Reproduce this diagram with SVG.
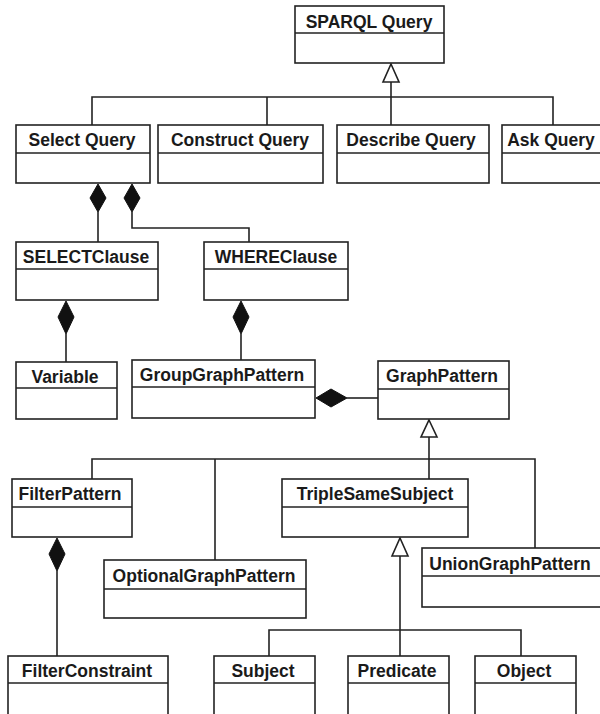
<svg xmlns="http://www.w3.org/2000/svg" width="600" height="714" viewBox="0 0 600 714">
  <style>
    .box { fill: #ffffff; stroke: #222222; stroke-width: 1.6; }
    .div { stroke: #222222; stroke-width: 1.6; }
    .name { font-family: "Liberation Sans", Arial, sans-serif; font-weight: bold; font-size: 17.5px; fill: #1a1a1a; text-anchor: middle; }
    .line { fill: none; stroke: #222222; stroke-width: 1.6; }
    .comp { fill: #111111; stroke: #111111; stroke-width: 1; }
    .gen { fill: #ffffff; stroke: #222222; stroke-width: 1.6; }
  </style>
  <rect width="600" height="714" fill="#ffffff"/>

  <!-- connectors: generalisation and composition links -->
  <g id="connectors">
    <!-- query kinds generalise SPARQL Query -->
    <polyline class="line" points="391,82 391,125"/>
    <polyline class="line" points="92,125 92,97 553,97 553,125"/>
    <polyline class="line" points="267,97 267,125"/>
    <polygon class="gen" points="391,64 399,82 383,82"/>

    <!-- Select Query composed of SELECTClause and WHEREClause -->
    <polyline class="line" points="98,212 98,242"/>
    <polygon class="comp" points="98,184 106,198 98,212 90,198"/>
    <polyline class="line" points="132,212 132,228 249,228 249,242"/>
    <polygon class="comp" points="132,184 140,198 132,212 124,198"/>

    <!-- SELECTClause to Variable -->
    <polyline class="line" points="66,334 66,362"/>
    <polygon class="comp" points="66,301 74,317 66,334 58,317"/>

    <!-- WHEREClause to GroupGraphPattern -->
    <polyline class="line" points="241,334 241,360"/>
    <polygon class="comp" points="241,301 249,317 241,334 233,317"/>

    <!-- GroupGraphPattern to GraphPattern -->
    <polyline class="line" points="347,398 378,398"/>
    <polygon class="comp" points="316,398 331,389 347,398 331,407"/>

    <!-- pattern kinds generalise GraphPattern -->
    <polyline class="line" points="429,437 429,479"/>
    <polyline class="line" points="92,479 92,459 535,459 535,548"/>
    <polyline class="line" points="215,459 215,560"/>
    <polygon class="gen" points="429,420 437,437 421,437"/>

    <!-- FilterPattern to FilterConstraint -->
    <polyline class="line" points="57,571 57,656"/>
    <polygon class="comp" points="57,538 65,554 57,571 49,554"/>

    <!-- triple parts generalise TripleSameSubject -->
    <polyline class="line" points="400,556 400,656"/>
    <polyline class="line" points="269,656 269,630 521,630 521,656"/>
    <polygon class="gen" points="400,538 408,556 392,556"/>
  </g>

  <g id="sparql-query">
    <rect class="box" x="295" y="6" width="149" height="57"/>
    <line class="div" x1="295" y1="33" x2="444" y2="33"/>
    <text class="name" x="369" y="28">SPARQL Query</text>
  </g>
  <g id="select-query">
    <rect class="box" x="16" y="125" width="134" height="58"/>
    <line class="div" x1="16" y1="153" x2="150" y2="153"/>
    <text class="name" x="82" y="146">Select Query</text>
  </g>
  <g id="construct-query">
    <rect class="box" x="158" y="125" width="165" height="58"/>
    <line class="div" x1="158" y1="153" x2="323" y2="153"/>
    <text class="name" x="240" y="146">Construct Query</text>
  </g>
  <g id="describe-query">
    <rect class="box" x="337" y="125" width="152" height="58"/>
    <line class="div" x1="337" y1="153" x2="489" y2="153"/>
    <text class="name" x="411" y="146">Describe Query</text>
  </g>
  <g id="ask-query">
    <rect class="box" x="502" y="125" width="100" height="58"/>
    <line class="div" x1="502" y1="153" x2="602" y2="153"/>
    <text class="name" x="551" y="146">Ask Query</text>
  </g>
  <g id="select-clause">
    <rect class="box" x="16" y="242" width="142" height="58"/>
    <line class="div" x1="16" y1="269" x2="158" y2="269"/>
    <text class="name" x="86" y="263">SELECTClause</text>
  </g>
  <g id="where-clause">
    <rect class="box" x="204" y="242" width="144" height="58"/>
    <line class="div" x1="204" y1="269" x2="348" y2="269"/>
    <text class="name" x="276" y="263">WHEREClause</text>
  </g>
  <g id="variable">
    <rect class="box" x="16" y="362" width="101" height="57"/>
    <line class="div" x1="16" y1="388" x2="117" y2="388"/>
    <text class="name" x="65" y="383">Variable</text>
  </g>
  <g id="group-graph-pattern">
    <rect class="box" x="132" y="360" width="183" height="58"/>
    <line class="div" x1="132" y1="387" x2="315" y2="387"/>
    <text class="name" x="222" y="381">GroupGraphPattern</text>
  </g>
  <g id="graph-pattern">
    <rect class="box" x="378" y="361" width="131" height="58"/>
    <line class="div" x1="378" y1="389" x2="509" y2="389"/>
    <text class="name" x="442" y="382">GraphPattern</text>
  </g>
  <g id="filter-pattern">
    <rect class="box" x="12" y="479" width="120" height="58"/>
    <line class="div" x1="12" y1="507" x2="132" y2="507"/>
    <text class="name" x="70" y="500">FilterPattern</text>
  </g>
  <g id="triple-same-subject">
    <rect class="box" x="282" y="479" width="186" height="58"/>
    <line class="div" x1="282" y1="507" x2="468" y2="507"/>
    <text class="name" x="375" y="500">TripleSameSubject</text>
  </g>
  <g id="optional-graph-pattern">
    <rect class="box" x="104" y="560" width="202" height="58"/>
    <line class="div" x1="104" y1="589" x2="306" y2="589"/>
    <text class="name" x="204" y="582">OptionalGraphPattern</text>
  </g>
  <g id="union-graph-pattern">
    <rect class="box" x="422" y="548" width="180" height="59"/>
    <line class="div" x1="422" y1="576" x2="602" y2="576"/>
    <text class="name" x="510" y="570">UnionGraphPattern</text>
  </g>
  <g id="filter-constraint">
    <rect class="box" x="8" y="656" width="160" height="70"/>
    <line class="div" x1="8" y1="683" x2="168" y2="683"/>
    <text class="name" x="87" y="677">FilterConstraint</text>
  </g>
  <g id="subject">
    <rect class="box" x="214" y="656" width="101" height="70"/>
    <line class="div" x1="214" y1="683" x2="315" y2="683"/>
    <text class="name" x="263" y="677">Subject</text>
  </g>
  <g id="predicate">
    <rect class="box" x="348" y="656" width="101" height="70"/>
    <line class="div" x1="348" y1="683" x2="449" y2="683"/>
    <text class="name" x="397" y="677">Predicate</text>
  </g>
  <g id="object">
    <rect class="box" x="475" y="656" width="101" height="70"/>
    <line class="div" x1="475" y1="683" x2="576" y2="683"/>
    <text class="name" x="524" y="677">Object</text>
  </g>
</svg>
